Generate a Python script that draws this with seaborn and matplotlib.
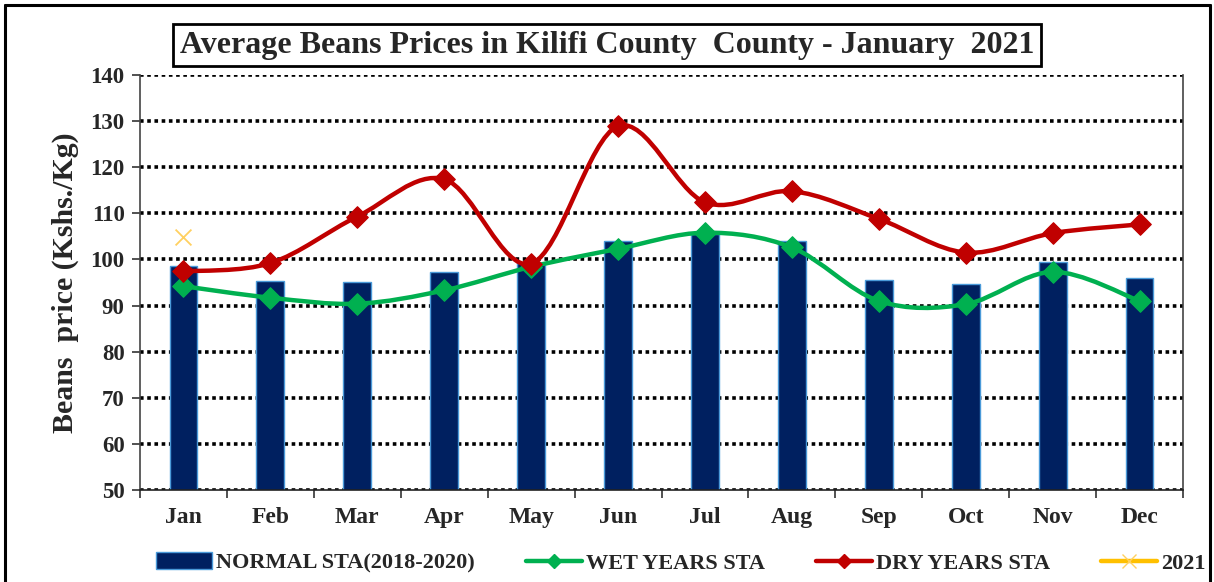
import numpy as np
import pandas as pd
import matplotlib
matplotlib.use("Agg")
import matplotlib.pyplot as plt
import seaborn as sns
from matplotlib.path import Path
from matplotlib.patches import PathPatch
from matplotlib.lines import Line2D
from matplotlib.patches import Patch

months = ["Jan", "Feb", "Mar", "Apr", "May", "Jun", "Jul", "Aug", "Sep", "Oct", "Nov", "Dec"]
normal_sta = [98.6, 95.4, 95.0, 97.2, 99.2, 103.9, 105.6, 103.9, 95.5, 94.6, 99.4, 96.0]
wet_sta = [94.2, 91.7, 90.4, 93.3, 98.4, 102.3, 105.8, 102.6, 91.0, 90.3, 97.3, 91.0]
dry_sta = [97.4, 99.2, 109.3, 117.4, 99.1, 128.9, 112.4, 114.8, 108.8, 101.5, 105.7, 107.6]
y2021 = [104.8]
y2021_months = ["Jan"]
yticks = list(range(50, 141, 10))

sns.set_theme(style="white")
plt.rcParams["font.family"] = ["Liberation Serif", "DejaVu Serif"]
plt.rcParams["font.weight"] = "bold"

fig = plt.figure(figsize=(12.14, 5.82), dpi=100)
ax = fig.add_axes([140/1214, 1-490/582, (1183-140)/1214, (490-75)/582])

df = pd.DataFrame({"month": months, "normal": normal_sta, "wet": wet_sta, "dry": dry_sta})

ax.set_axisbelow(True)
sns.barplot(data=df, x="month", y="normal", ax=ax, color="#002060", width=0.32,
            edgecolor="#4A9AD9", linewidth=1.0, saturation=1, zorder=2)


def smooth_path(xs, ys):
    pts = np.column_stack([xs, ys]).astype(float)
    n = len(pts)
    verts = [pts[0]]
    codes = [Path.MOVETO]
    for i in range(n - 1):
        p0 = pts[i - 1] if i > 0 else pts[i]
        p1 = pts[i]
        p2 = pts[i + 1]
        p3 = pts[i + 2] if i + 2 < n else pts[i + 1]
        c1 = p1 + (p2 - p0) / 6.0
        c2 = p2 - (p3 - p1) / 6.0
        verts += [c1, c2, p2]
        codes += [Path.CURVE4] * 3
    return Path(verts, codes)


xpos = np.arange(len(months))
for vals, col in [(wet_sta, "#00B050"), (dry_sta, "#C00000")]:
    ax.add_patch(PathPatch(smooth_path(xpos, vals), facecolor="none", edgecolor=col,
                           lw=3.2, zorder=4, capstyle="round", joinstyle="round"))

sns.scatterplot(x=xpos, y=wet_sta, ax=ax, marker="D", s=120, color="#00B050",
                edgecolor="#00B050", zorder=5, legend=False)
sns.scatterplot(x=xpos, y=dry_sta, ax=ax, marker="D", s=120, color="#C00000",
                edgecolor="#C00000", zorder=5, legend=False)
sns.scatterplot(x=[months.index(m) for m in y2021_months], y=y2021, ax=ax, marker="x", s=130,
                color="#FFD060", linewidth=1.3, zorder=5, legend=False)

ax.set_xlim(-0.5, 11.5)
ax.set_ylim(50, 140)
ax.set_yticks(yticks)
ax.set_yticklabels([str(t) for t in yticks], fontsize=16.5, fontweight="bold")
ax.set_xticks(xpos)
ax.set_xticklabels(months, fontsize=17, fontweight="bold")
ax.tick_params(axis="x", which="major", length=0, pad=12, top=False)
ax.set_xticks(np.arange(-0.5, 12, 1), minor=True)
ax.tick_params(axis="x", which="minor", length=6, width=1.2, color="#333333", direction="out",
               bottom=True, top=False)
ax.tick_params(axis="y", which="both", length=6, width=1.2, color="#333333", direction="out",
               left=True, right=False, pad=5)
ax.set_xlabel("")
ax.set_ylabel("Beans  price (Kshs./Kg)", fontsize=21.5, fontweight="bold", labelpad=8)

ax.yaxis.grid(True, color="black", linestyle=(0, (1, 1)), linewidth=2.6)
ax.xaxis.grid(False)
for g in ax.get_ygridlines():
    g.set_dash_capstyle("butt")
ax.spines["top"].set_visible(False)
for s in ["left", "right", "bottom"]:
    ax.spines[s].set_visible(True)
    ax.spines[s].set_color("#444444")
    ax.spines[s].set_linewidth(1.2)
ax.spines["bottom"].set_color("#222222")

fig.text(607/1214, 1-45/582, "Average Beans Prices in Kilifi County  County - January  2021",
         ha="center", va="center", fontsize=23, fontweight="bold",
         bbox=dict(boxstyle="square,pad=0.2", facecolor="white", edgecolor="black", linewidth=2))

# outer chart frame
for (x0, y0, x1, y1) in [(5, 5, 1210, 5), (5, 5, 5, 600), (1210, 5, 1210, 600)]:
    fig.add_artist(Line2D([x0/1214, x1/1214], [1-y0/582, 1-y1/582], color="black",
                          lw=2.2, transform=fig.transFigure))

handles = [
    Patch(facecolor="#002060", edgecolor="#4A9AD9", linewidth=1.0),
    Line2D([], [], color="#00B050", lw=3.2, marker="D", markersize=7),
    Line2D([], [], color="#C00000", lw=3.2, marker="D", markersize=7),
    Line2D([], [], color="#FFC000", lw=3.2, marker="x", markersize=10, markeredgecolor="#FFD060"),
]
labels = ["NORMAL STA(2018-2020)", "WET YEARS STA", "DRY YEARS STA", "2021"]
fig.legend(handles, labels, loc="center", bbox_to_anchor=(681/1214, 1-563/582), ncol=4,
           frameon=False, handlelength=2.5, handleheight=0.8, handletextpad=0.2, columnspacing=2.3,
           prop={"weight": "bold", "size": 16})

fig.savefig("out.png", dpi=100)
